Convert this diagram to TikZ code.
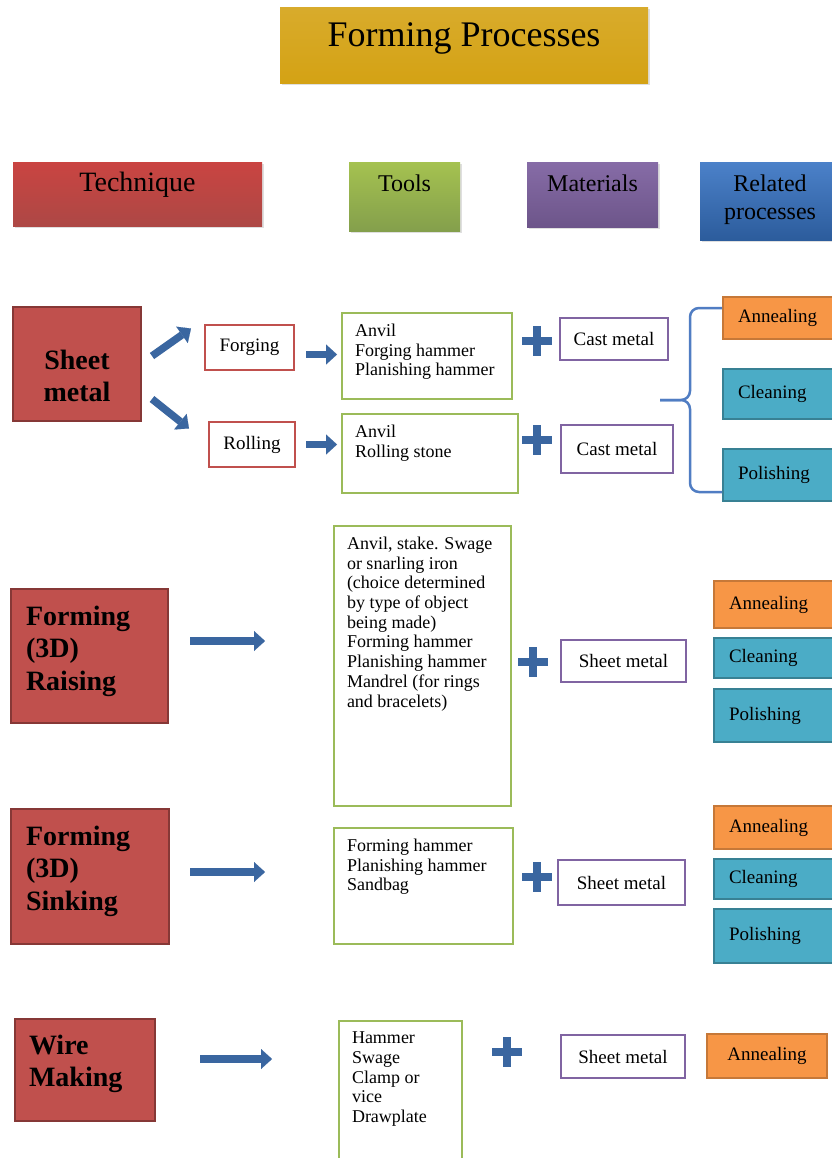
\documentclass[tikz,border=0pt]{standalone}
\usepackage{fontspec}
\setmainfont{Liberation Serif}
\usetikzlibrary{arrows.meta,calc,shadows,shapes.misc}

\definecolor{titlegold}{RGB}{212,162,20}
\definecolor{techred}{RGB}{192,80,77}
\definecolor{toolgreen}{RGB}{155,187,89}
\definecolor{matpurple}{RGB}{128,100,162}
\definecolor{relblue}{RGB}{55,115,195}
\definecolor{annorange}{RGB}{247,150,70}
\definecolor{cleanteal}{RGB}{75,172,198}
\definecolor{arrblue}{RGB}{58,102,160}
\definecolor{braceblue}{RGB}{80,125,195}

\tikzset{
  hdr/.style={anchor=north, inner sep=0pt, align=center, text height=29pt,
    font=\fontsize{24}{28}\selectfont,
    drop shadow={opacity=0.25,shadow xshift=1.5pt,shadow yshift=-2pt}},
  tech/.style={anchor=north west, fill=techred, draw=techred!70!black,
    line width=2pt, inner xsep=15pt, inner ysep=0pt, align=left,
    font=\bfseries\fontsize{28}{32.5}\selectfont},
  subbox/.style={draw=techred, line width=2pt, fill=white, inner sep=0pt,
    font=\fontsize{19}{22}\selectfont},
  toolbox/.style={anchor=north west, draw=toolgreen, line width=2pt,
    fill=white, inner xsep=13pt, inner ysep=11pt,
    font=\fontsize{18}{19.7}\selectfont},
  matbox/.style={draw=matpurple, line width=2pt, fill=white, inner sep=0pt,
    font=\fontsize{19}{22}\selectfont},
  relbox/.style={anchor=north west, line width=2pt, inner xsep=15pt,
    inner ysep=0pt, align=left, text width=100pt,
    font=\fontsize{19}{22}\selectfont},
  anneal/.style={relbox, fill=annorange, draw=annorange!80!black},
  clean/.style={relbox, fill=cleanteal, draw=cleanteal!75!black},
  blockarrow/.style={draw=arrblue, line width=7.5pt,
    -{Triangle[length=11pt,width=20pt,line width=0.1pt]}},
  plussign/.style={cross out, draw=arrblue, line width=8.5pt, rotate=45,
    minimum size=12.5pt, inner sep=0pt},
  brace/.style={draw=braceblue, line width=2.5pt, rounded corners=9pt}
}

\newcommand{\toollist}[3]{\parbox[t][#1][t]{#2}{\raggedright #3}}

\begin{document}
\begin{tikzpicture}[x=1pt,y=-1pt]
  \useasboundingbox (0,0) rectangle (831,1158);
  \fill[white] (0,0) rectangle (831,1158);

  %title and column heads
  \node[hdr, top color=titlegold!90!white, bottom color=titlegold,
    minimum width=368pt, text height=39pt, text depth=37pt,
    font=\fontsize{36}{40}\selectfont] (title) at (464,7) {Forming Processes};
  \node[hdr, top color=techred!85!red, bottom color=techred!90!black,
    minimum width=249pt, text depth=35pt,
    font=\fontsize{28}{30}\selectfont] (hTech) at (137.5,162) {Technique};
  \node[hdr, top color=toolgreen!90!yellow, bottom color=toolgreen!85!black,
    minimum width=111pt, text depth=40pt] (hTools) at (404.5,162) {Tools};
  \node[hdr, top color=matpurple!95!white, bottom color=matpurple!85!black,
    minimum width=131pt, text depth=36pt] (hMat) at (592.5,162) {Materials};
  \node[hdr, top color=relblue!90!white, bottom color=relblue!80!black,
    minimum width=140pt, text height=57pt, text depth=21pt] (hRel) at (770,162) {Related\\processes};

  %sheet metal
  \node[tech, align=center, text width=98pt, text height=62pt, text depth=52pt]
    (sheet) at (12,306) {Sheet\\metal};
  \node[subbox, minimum width=89pt, minimum height=45pt] (forging) at (249.5,347.5) {Forging};
  \node[subbox, minimum width=86pt, minimum height=45pt] (rolling) at (252,444.5) {Rolling};
  \node[toolbox] (tl1) at (341,312)
    {\toollist{64pt}{144pt}{Anvil\\Forging hammer\\Planishing hammer}};
  \node[toolbox] (tl2) at (341,413)
    {\toollist{57pt}{150pt}{Anvil\\Rolling stone}};
  \node[plussign] (p1) at (537,341) {};
  \node[plussign] (p2) at (537,440) {};
  \node[matbox, minimum width=108pt, minimum height=42pt] (cm1) at (614,339) {Cast metal};
  \node[matbox, minimum width=112pt, minimum height=48pt] (cm2) at (617,449) {Cast metal};
  \node[anneal, minimum height=42pt] (ann1) at (722,296) {Annealing};
  \node[clean, minimum height=50pt] (cle1) at (722,368) {Cleaning};
  \node[clean, minimum height=52pt] (pol1) at (722,448) {Polishing};
  \draw[blockarrow] ($(sheet.east)+(10pt,8pt)$) -- ($(forging.west)+(-13pt,19pt)$);
  \draw[blockarrow] ($(sheet.east)+(10pt,-35pt)$) -- ($(rolling.west)+(-19pt,16pt)$);
  \draw[blockarrow] ($(forging.east)+(11pt,-7pt)$) -- ($(forging.east -| tl1.west)+(-4pt,-7pt)$);
  \draw[blockarrow] ($(rolling.east)+(10pt,0pt)$) -- ($(rolling.east -| tl2.west)+(-4pt,0pt)$);
  %brace to the related processes
  \coordinate (bracemid) at (690,400);
  \coordinate (bracetip) at (660,400);
  \draw[brace] ([yshift=-12pt]ann1.north west) -| (bracemid) -- (bracetip);
  \draw[brace] ([yshift=10pt]pol1.south west) -| (bracemid) -- (bracetip);

  %raising
  \node[tech, text width=127pt, text height=36pt, text depth=98pt]
    (raise) at (10,588) {Forming\\(3D)\\Raising};
  \node[toolbox] (tl3) at (333,525)
    {\toollist{258pt}{151pt}{Anvil, stake. Swage\\or snarling iron\\(choice determined\\by type of object\\being made)\\Forming hammer\\Planishing hammer\\Mandrel (for rings\\and bracelets)}};
  \node[plussign] (p3) at (533,662) {};
  \node[matbox, minimum width=125pt, minimum height=42pt] (sm2) at (623.5,661) {Sheet metal};
  \node[anneal, minimum height=47pt] (ann2) at (713,580) {Annealing};
  \node[clean, minimum height=40pt] (cle2) at (713,637) {Cleaning};
  \node[clean, minimum height=53pt] (pol2) at (713,688) {Polishing};
  \draw[blockarrow] ($(raise.east)+(21pt,15pt)$) -- ($(raise.east -| tl3.west)+(-68pt,15pt)$);

  %sinking
  \node[tech, text width=128pt, text height=36pt, text depth=99pt]
    (sink) at (10,808) {Forming\\(3D)\\Sinking};
  \node[toolbox] (tl4) at (333,827)
    {\toollist{94pt}{153pt}{Forming hammer\\Planishing hammer\\Sandbag}};
  \node[plussign] (p4) at (537,877) {};
  \node[matbox, minimum width=127pt, minimum height=45pt] (sm3) at (621.5,882.5) {Sheet metal};
  \node[anneal, minimum height=43pt] (ann3) at (713,805) {Annealing};
  \node[clean, minimum height=40pt] (cle3) at (713,858) {Cleaning};
  \node[clean, minimum height=54pt] (pol3) at (713,908) {Polishing};
  \draw[blockarrow] ($(sink.east)+(20pt,4.5pt)$) -- ($(sink.east -| tl4.west)+(-68pt,4.5pt)$);

  %wire making
  \node[tech, text width=112pt, text height=35pt, text depth=67pt, inner xsep=14pt]
    (wire) at (14,1018) {Wire\\Making};
  \node[toolbox] (tl5) at (338,1020)
    {\toollist{123pt}{97pt}{Hammer\\Swage\\Clamp or\\vice\\Drawplate}};
  \node[plussign] (p5) at (507,1052) {};
  \node[matbox, minimum width=124pt, minimum height=43pt] (sm4) at (623,1056.5) {Sheet metal};
  \node[anneal, minimum height=44pt, text width=90pt, align=center] (ann4) at (706,1033) {Annealing};
  \draw[blockarrow] ($(wire.east)+(44pt,11pt)$) -- ($(wire.east -| tl5.west)+(-66pt,11pt)$);
\end{tikzpicture}
\end{document}
